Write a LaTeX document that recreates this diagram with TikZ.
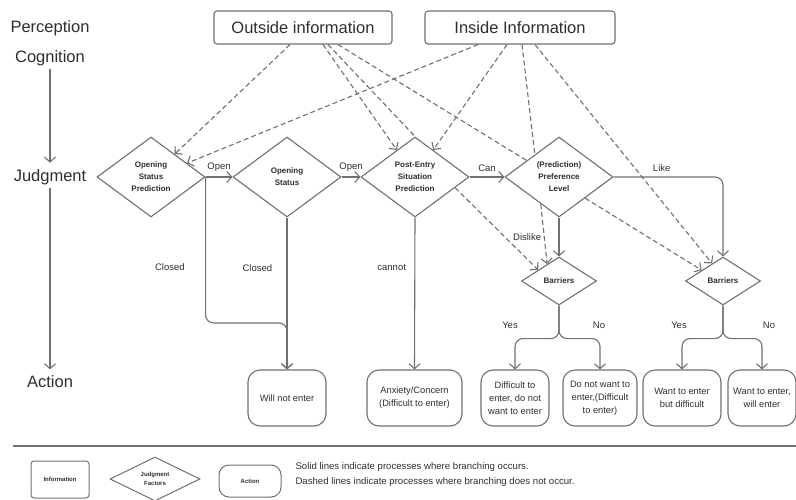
\documentclass[tikz,border=0pt]{standalone}
\usepackage{fontspec}
\setmainfont{Liberation Sans}
\usetikzlibrary{shapes,arrows.meta,positioning}
\definecolor{linegray}{HTML}{707070}
\definecolor{textgray}{HTML}{2E2E2E}

\begin{document}
\begin{tikzpicture}[x=1pt, y=-1pt,
    every node/.style={text=textgray},
    info/.style={draw=linegray, line width=1.1pt, rounded corners=3pt, minimum width=178pt, minimum height=33pt, font=\fontsize{16.5}{18}\selectfont},
    judge/.style={draw=linegray, line width=1.1pt, diamond, shape aspect=1.35, inner sep=0pt, minimum width=108pt, minimum height=80pt, align=center, font=\bfseries\fontsize{8}{12}\selectfont},
    actbox/.style={draw=linegray, line width=1.1pt, rounded corners=12pt, minimum height=56pt, inner sep=2pt, align=center, font=\fontsize{9.3}{13}\selectfont},
    stage/.style={font=\fontsize{16.5}{18}\selectfont},
    lbl/.style={font=\fontsize{9.5}{11}\selectfont},
    flow/.style={draw=linegray, line width=1.1pt, -{Straight Barb[length=5pt,width=11pt]}},
    hintline/.style={draw=linegray, line width=1.1pt, dash pattern=on 5pt off 3pt},
    hint/.style={hintline, -{Straight Barb[length=5pt,width=11pt]}}
  ]
  \useasboundingbox (0,0) rectangle (796,500);

  % stages on the left
  \node[stage] (perc) at (50,28) {Perception};
  \node[stage] (cog) at (50,58) {Cognition};
  \node[stage] (judg) at (50,177) {Judgment};
  \node[stage] (action) at (50,382) {Action};
  \draw[flow, shorten >=3pt] (cog) -- (judg);
  \draw[flow, shorten >=3pt] (judg) -- (action);

  % information
  \node[info] (outinfo) at (303,27.5) {Outside information};
  \node[info, minimum width=190pt] (ininfo) at (520,27.5) {Inside Information};

  % judgment factors
  \node[judge] (osp) at (151,177) {Opening\\Status\\Prediction};
  \node[judge] (ostat) at (287,177) {Opening\\Status};
  \node[judge] (postentry) at (415,177) {Post-Entry\\Situation\\Prediction};
  \node[judge] (pref) at (559,177) {(Prediction)\\Preference\\Level};
  \node[judge, minimum width=75pt, minimum height=48pt] (barA) at (559,281) {Barriers};
  \node[judge, minimum width=75pt, minimum height=48pt] (barB) at (723,281) {Barriers};

  % actions
  \node[actbox, minimum width=78pt] (notenter) at (287,398) {Will not enter};
  \node[actbox, minimum width=95pt] (anxiety) at (414.5,398) {Anxiety/Concern\\(Difficult to enter)};
  \node[actbox, minimum width=68pt] (diffno) at (515,398) {Difficult to\\enter, do not\\want to enter};
  \node[actbox, minimum width=74pt] (nowant) at (600,398) {Do not want to\\enter,(Difficult\\to enter)};
  \node[actbox, minimum width=78pt] (wantdiff) at (682,398) {Want to enter\\but difficult};
  \node[actbox, minimum width=68pt] (wantyes) at (762,398) {Want to enter,\\will enter};

  % branching
  \draw[flow] (osp.east) -- node[lbl, above=2pt] (open1) {Open} (ostat.west);
  \draw[flow] (ostat.east) -- node[lbl, above=2pt] (open2) {Open} (postentry.west);
  \draw[flow] (postentry.east) -- node[lbl, above=2pt] (can) {Can} (pref.west);
  \draw[flow, rounded corners=8pt] (pref.east) -| node[lbl, above=2pt, pos=0.22] (like) {Like} (barB.north);
  \draw[flow] (pref.south) -- node[lbl, left=14pt] (dislike) {Dislike} (barA.north);
  \draw[flow, rounded corners=8pt] (osp.east) -- node[lbl, left=17pt, pos=0.62] (closed1) {Closed} ++(0,146) -| (notenter.north);
  \draw[flow] (ostat.south) -- node[lbl, left=11pt, pos=0.33] (closed2) {Closed} (notenter.north);
  \draw[flow] (postentry.south) -- node[lbl, left=5pt, pos=0.33] (cannot) {cannot} (anxiety.north);

  \draw[flow, rounded corners=8pt] (barA.south) -- ++(0,33) -| (diffno.north);
  \draw[flow, rounded corners=8pt] (barA.south) -- ++(0,33) -| (nowant.north);
  \draw[flow, rounded corners=8pt] (barB.south) -- ++(0,33) -| (wantdiff.north);
  \draw[flow, rounded corners=8pt] (barB.south) -- ++(0,33) -| (wantyes.north);
  \node[lbl] (yesA) at ([xshift=-49pt, yshift=-20pt]barA.south) {Yes};
  \node[lbl] (noA) at ([xshift=40pt, yshift=-20pt]barA.south) {No};
  \node[lbl] (yesB) at ([xshift=-44pt, yshift=-20pt]barB.south) {Yes};
  \node[lbl] (noB) at ([xshift=46pt, yshift=-20pt]barB.south) {No};

  % information flow (no branching)
  \draw[hint] ([xshift=-13pt]outinfo.south) -- (osp.44);
  \draw[hint] ([xshift=20pt]outinfo.south) -- (postentry.124);
  \draw[hintline] ([xshift=25pt]outinfo.south) -- (postentry.north);
  \draw[hintline] ([xshift=35pt]outinfo.south) -- (pref.153);
  \draw[hint] ([xshift=-42pt]ininfo.south) -- (osp.21);
  \draw[hint] ([xshift=-13pt]ininfo.south) -- (postentry.56);
  \draw[hintline] ([xshift=2pt]ininfo.south) -- (pref.137);
  \draw[hint] ([xshift=15pt]ininfo.south) -- (barB.122);
  \draw[hint] (postentry.-15) -- (barA.152);
  \draw[hint] (pref.236) -- (barA.125);
  \draw[hint] (pref.-39) -- (barB.153);

  % legend
  \draw[linegray, line width=1.5pt] (13,446) -- (796,446);
  \node[draw=linegray, line width=1pt, rounded corners=3pt, minimum width=58pt, minimum height=37pt, font=\bfseries\fontsize{6}{7}\selectfont] (infokey) at (60,479.5) {Information};
  \node[judge, line width=1pt, minimum width=90pt, minimum height=44pt, font=\bfseries\fontsize{6}{9}\selectfont] (judgekey) at (155,479) {Judgment\\Factors};
  \node[actbox, line width=1pt, minimum width=62pt, minimum height=32pt, rounded corners=10pt, font=\bfseries\fontsize{6}{7}\selectfont] (actkey) at (250,481) {Action};
  \node[font=\fontsize{9.6}{15}\selectfont, align=left, anchor=west] (keytext) at (292,474.5) {Solid lines indicate processes where branching occurs.\\Dashed lines indicate processes where branching does not occur.};
\end{tikzpicture}
\end{document}
